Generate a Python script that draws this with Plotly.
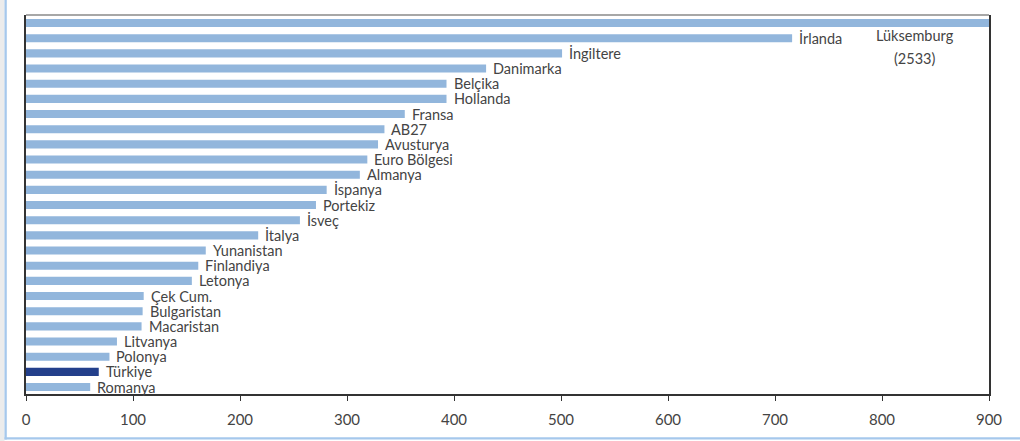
import plotly.graph_objects as go

# Countries listed bottom-to-top as they appear on the chart
countries = [
    "Romanya", "Türkiye", "Polonya", "Litvanya", "Macaristan", "Bulgaristan",
    "Çek Cum.", "Letonya", "Finlandiya", "Yunanistan", "İtalya", "İsveç",
    "Portekiz", "İspanya", "Almanya", "Euro Bölgesi", "Avusturya", "AB27",
    "Fransa", "Hollanda", "Belçika", "Danimarka", "İngiltere", "İrlanda",
    "Lüksemburg",
]
values = [
    60, 68, 78, 85, 108, 109,
    110, 155, 161, 168, 217, 256,
    271, 281, 312, 319, 329, 335,
    354, 393, 393, 430, 501, 716,
    2533,
]
x_ticks = [0, 100, 200, 300, 400, 500, 600, 700, 800, 900]

LIGHT = "#92b6dc"
DARK = "#233f8b"
TEXT = "#444444"
FONT = "Lato"

colors = [DARK if c == "Türkiye" else LIGHT for c in countries]

fig = go.Figure()
fig.add_trace(go.Bar(
    x=values,
    y=list(range(len(countries))),
    orientation="h",
    marker=dict(color=colors, line=dict(width=0)),
    width=0.53,
    hoverinfo="skip",
))

# Country labels just past each bar's end (the off-scale bar gets its own label)
annotations = []
label_font = dict(family=FONT, size=14.5, color=TEXT)
for i, (c, v) in enumerate(zip(countries, values)):
    if v > x_ticks[-1]:
        annotations.append(dict(
            x=831, y=i - 0.82, xref="x", yref="y",
            text=c, showarrow=False,
            xanchor="center", yanchor="middle",
            font=label_font, borderpad=0,
        ))
        annotations.append(dict(
            x=831, y=i - 2.31, xref="x", yref="y",
            text=f"({v})", showarrow=False,
            xanchor="center", yanchor="middle",
            font=label_font, borderpad=0,
        ))
        continue
    annotations.append(dict(
        x=v, y=i, xref="x", yref="y",
        text=c, showarrow=False,
        xanchor="left", yanchor="middle", xshift=6,
        font=label_font, borderpad=0,
    ))

# Panel frame: grey strip and light-blue rule on the left, blue rule along the bottom
W_PLOT = 963.0
H_PLOT = 379.0
def px_x(p):
    return (p - 26) / W_PLOT
def px_y(p):
    return (394 - p) / H_PLOT

shapes = [
    dict(type="rect", xref="paper", yref="paper",
         x0=px_x(0), x1=px_x(4.5), y0=px_y(441), y1=px_y(0),
         line=dict(width=0), fillcolor="#ececec", layer="below"),
    dict(type="rect", xref="paper", yref="paper",
         x0=px_x(4.5), x1=px_x(6.8), y0=px_y(439.6), y1=px_y(0),
         line=dict(width=0), fillcolor="#a6c8ec", layer="below"),
    dict(type="rect", xref="paper", yref="paper",
         x0=px_x(4.5), x1=px_x(1020), y0=px_y(439.6), y1=px_y(437.3),
         line=dict(width=0), fillcolor="#a6c8ec", layer="below"),
    # grey top edge of the plot box
    dict(type="line", xref="paper", yref="paper",
         x0=0, x1=1, y0=1, y1=1,
         line=dict(color="#8a8a8a", width=1.5)),
]

fig.update_layout(
    width=1020, height=441,
    margin=dict(l=26, r=31, t=15, b=47),
    paper_bgcolor="white",
    plot_bgcolor="white",
    showlegend=False,
    annotations=annotations,
    shapes=shapes,
    xaxis=dict(
        range=[0, 900],
        tickvals=x_ticks,
        ticktext=[str(t) for t in x_ticks],
        ticks="outside", ticklen=5, tickwidth=1, tickcolor="#333",
        showline=True, linecolor="#333", linewidth=1.5,
        showgrid=False, zeroline=False,
        ticklabelstandoff=6,
        tickfont=dict(family=FONT, size=15, color=TEXT),
    ),
    yaxis=dict(
        range=[-0.46, len(countries) - 1 + 0.53],
        showticklabels=False, ticks="",
        showline=True, linecolor="#333", linewidth=1.5, mirror=True,
        showgrid=False, zeroline=False,
    ),
)

fig.write_html("out.html")
